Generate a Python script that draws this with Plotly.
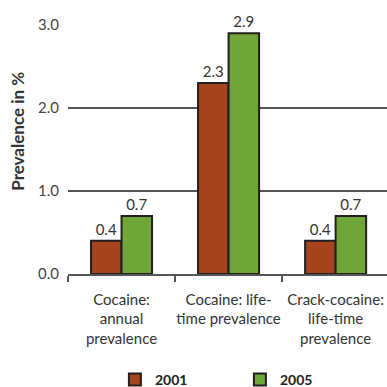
import plotly.graph_objects as go

categories = ["Cocaine:<br>annual<br>prevalence", "Cocaine: life-<br>time prevalence", "Crack-cocaine:<br>life-time<br>prevalence"]
series_names = ["2001", "2005"]
values_2001 = [0.4, 2.3, 0.4]
values_2005 = [0.7, 2.9, 0.7]
y_ticks = [0.0, 1.0, 2.0, 3.0]
y_tick_labels = ["0.0", "1.0", "2.0", "3.0"]

colors = ["#A5441D", "#70A537"]
font_family = "Lato, Open Sans, sans-serif"

fig = go.Figure()
for name, vals, col in zip(series_names, [values_2001, values_2005], colors):
    fig.add_trace(go.Bar(
        x=categories, y=vals, name=name,
        marker=dict(color=col, line=dict(color="#231F20", width=2)),
        text=[f"{v:.1f}" for v in vals], textposition="outside",
        textfont=dict(size=15, color="#333333", family=font_family),
        cliponaxis=False,
    ))

fig.update_layout(
    width=387, height=387,
    margin=dict(l=68, r=0, t=25, b=113, autoexpand=False),
    paper_bgcolor="white", plot_bgcolor="white",
    barmode="group", bargap=0.43, bargroupgap=0,
    font=dict(family=font_family, color="#333333"),
    showlegend=True,
    legend=dict(orientation="h", x=0.147, xanchor="left", y=-0.425, yanchor="middle",
                font=dict(size=14, color="#222222", family=font_family, weight="bold"),
                itemwidth=30, entrywidth=80, entrywidthmode="pixels",
                traceorder="normal"),
    xaxis=dict(range=[-0.5, 2.48], showgrid=False, showline=True, linecolor="#555555", linewidth=1.5,
               ticks="outside", tickson="boundaries", ticklen=6, tickcolor="#555555", tickwidth=1.5,
               tickangle=0, automargin=False, ticklabelstandoff=11,
               tickfont=dict(size=15, color="#333333"), fixedrange=True),
    yaxis=dict(range=[0, 3.0], tickvals=y_ticks, ticktext=y_tick_labels, showgrid=True,
               gridcolor="#555555", gridwidth=1.5, zeroline=False, showline=False, automargin=False,
               ticks="", ticklabelstandoff=8, tickfont=dict(size=15, color="#444444")),
    annotations=[dict(text="<b>Prevalence in %</b>", textangle=-90, xref="paper", yref="paper",
                      x=-0.157, y=0.575, xanchor="center", yanchor="middle", showarrow=False,
                      font=dict(size=17, color="#333333"))],
)

fig.write_html("out.html")
